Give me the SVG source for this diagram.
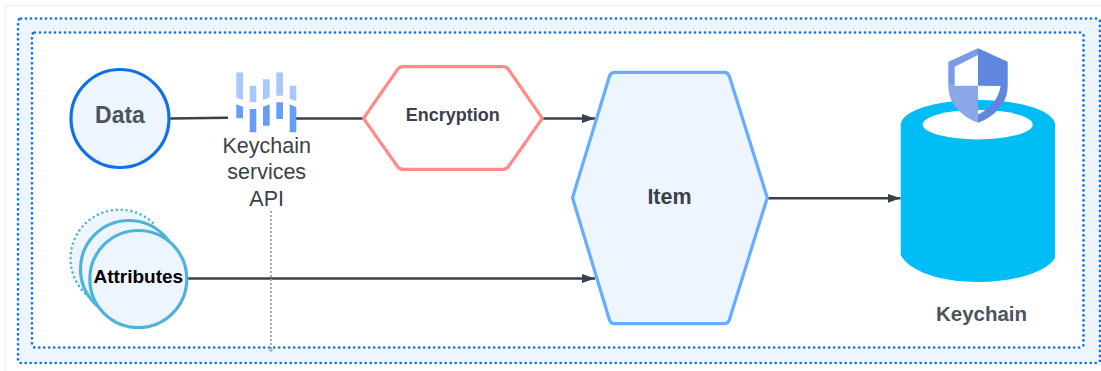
<svg xmlns="http://www.w3.org/2000/svg" width="1101" height="371" viewBox="0 0 1101 371">
<style>
text{font-family:"Liberation Sans",Arial,sans-serif;text-anchor:middle;fill:#3a414a}
.b{font-weight:700}
.dot{stroke:#1071e5;stroke-width:2.700;stroke-dasharray:0 5;stroke-linecap:round}
.wire{fill:none;stroke:#3a414a;stroke-width:2.500}
.circ{fill:#edf5ff;stroke:#4fb3d9;stroke-width:3.200}
.lt{fill:#a9c8fb}.dk{fill:#669df6}
</style>
<defs><marker id="arr" markerUnits="userSpaceOnUse" markerWidth="14" markerHeight="10" refX="13" refY="4.500" orient="auto"><path d="M0 0L13 4.500L0 9z" fill="#3a414a"/></marker></defs>
<rect x="0" y="0" width="1101" height="371" fill="#fff"/>
<path d="M5.500 371V5.500H1101" fill="none" stroke="#f0f0f0" stroke-width="1"/>
<g id="outer-frame"><rect x="18" y="18.500" width="1082" height="344.500" rx="3" fill="#edf5ff" class="dot"/></g>
<g id="inner-frame"><rect x="32" y="32.500" width="1051.500" height="315" rx="3" fill="#fff" class="dot"/></g>
<g id="connectors">
<path class="wire" d="M170 118.500L228 117.800"/>
<path class="wire" d="M296 118.500H364"/>
<path class="wire" marker-end="url(#arr)" d="M542 118.500H595"/>
<path class="wire" marker-end="url(#arr)" d="M188 278.500H595"/>
<path class="wire" marker-end="url(#arr)" d="M768 198.300H900.500"/>
<path d="M271 211V350" fill="none" stroke="#a5a8ac" stroke-width="2" stroke-dasharray="2 2"/>
<path d="M268.500 349.500h5l-2.500 2.500z" fill="#9a9ea3"/>
</g>
<g id="data"><circle cx="120" cy="118.500" r="49" fill="#edf5ff" stroke="#1071e5" stroke-width="3.200"/><text class="b" x="120" y="122.500" font-size="23" style="fill:#4c535d">Data</text></g>
<g id="api">
<g class="lt"><path d="M236.300 72.500h6.700V100l-6.700-2.300z"/><path d="M249.700 85.700h6.600v16.600h-6.600z"/><path d="M263 79.300h6.700v18l-6.700 2.700z"/><path d="M276.300 72.500h6.700v23.200h-6.700z"/><path d="M289.700 85.700h6.600V101l-6.600-2z"/></g>
<g class="dk"><path d="M236.300 104.300l6.700 2.400v11.600h-6.700z"/><path d="M249.700 109h6.600v23.300h-6.600z"/><path d="M263 106.700l6.700-2.400v21.400H263z"/><path d="M276.300 102.300h6.700V119h-6.700z"/><path d="M289.700 104.300l6.600 3v25h-6.600z"/></g>
<text x="266.700" y="152.700" font-size="21.500">Keychain</text><text x="266.700" y="179.300" font-size="21.500">services</text><text x="266.700" y="205.700" font-size="21.500">API</text></g>
<g id="encryption"><path d="M363.500 118.300L397.500 69.500Q399.500 66.700 403 66.700H503Q506.500 66.700 508.500 69.500L542.300 118.300L508.500 166.500Q506.500 169.300 503 169.300H403Q399.500 169.300 397.500 166.500Z" fill="#fff" stroke="#ff8a8a" stroke-width="3.200" stroke-linejoin="round"/><text class="b" x="452.700" y="120.700" font-size="18">Encryption</text></g>
<g id="attributes">
<circle cx="119" cy="259" r="49" fill="#edf5ff"/>
<path d="M152.700 222.700A49 49 0 0 0 84.400 224.400A49 49 0 0 0 86.700 295" fill="none" stroke="#4fb3d9" stroke-width="2.600" stroke-dasharray="0 4.900" stroke-linecap="round"/>
<circle class="circ" cx="129" cy="269" r="48.500"/><circle class="circ" cx="138.300" cy="279" r="48.500"/>
<text class="b" x="138.300" y="283" font-size="19" style="fill:#000">Attributes</text></g>
<g id="item"><path d="M572.500 197.700L609.500 76Q610.700 72.300 614.500 72.300H724.500Q728 72.300 729.300 76L767.300 197.700L729.300 320Q728 323.700 724.500 323.700H614.500Q610.700 323.700 609.500 320Z" fill="#edf5ff" stroke="#66adff" stroke-width="3.200" stroke-linejoin="round"/><text class="b" x="669.500" y="204" font-size="21.500">Item</text></g>
<g id="keychain">
<path d="M900.700 125C900.700 111 935 100 978 100S1055 111 1055 125V258C1046 272 1016 282 978 282S909 271 900.700 255Z" fill="#00bdf5"/>
<ellipse cx="977.700" cy="124.700" rx="55" ry="14.700" fill="#fff"/>
<path fill-rule="evenodd" d="M978 48.300L1007.700 61.700V86C1007.700 104 994 117 978 122.700ZM978 85.700V114.500C990 109 998 100 1000.700 86Z" fill="#5f87e0"/>
<path fill-rule="evenodd" d="M978 48.300L948.300 61.700V85.700H978ZM978 55L954.700 66.700V85.700H978Z" fill="#7a9be6"/>
<path d="M948.300 85.700H978V122.700C962 117 948.300 104 948.300 85.700Z" fill="#8aa8e8"/>
<text class="b" x="981.500" y="320.700" font-size="20.500" style="fill:#4c535d">Keychain</text></g>
</svg>
